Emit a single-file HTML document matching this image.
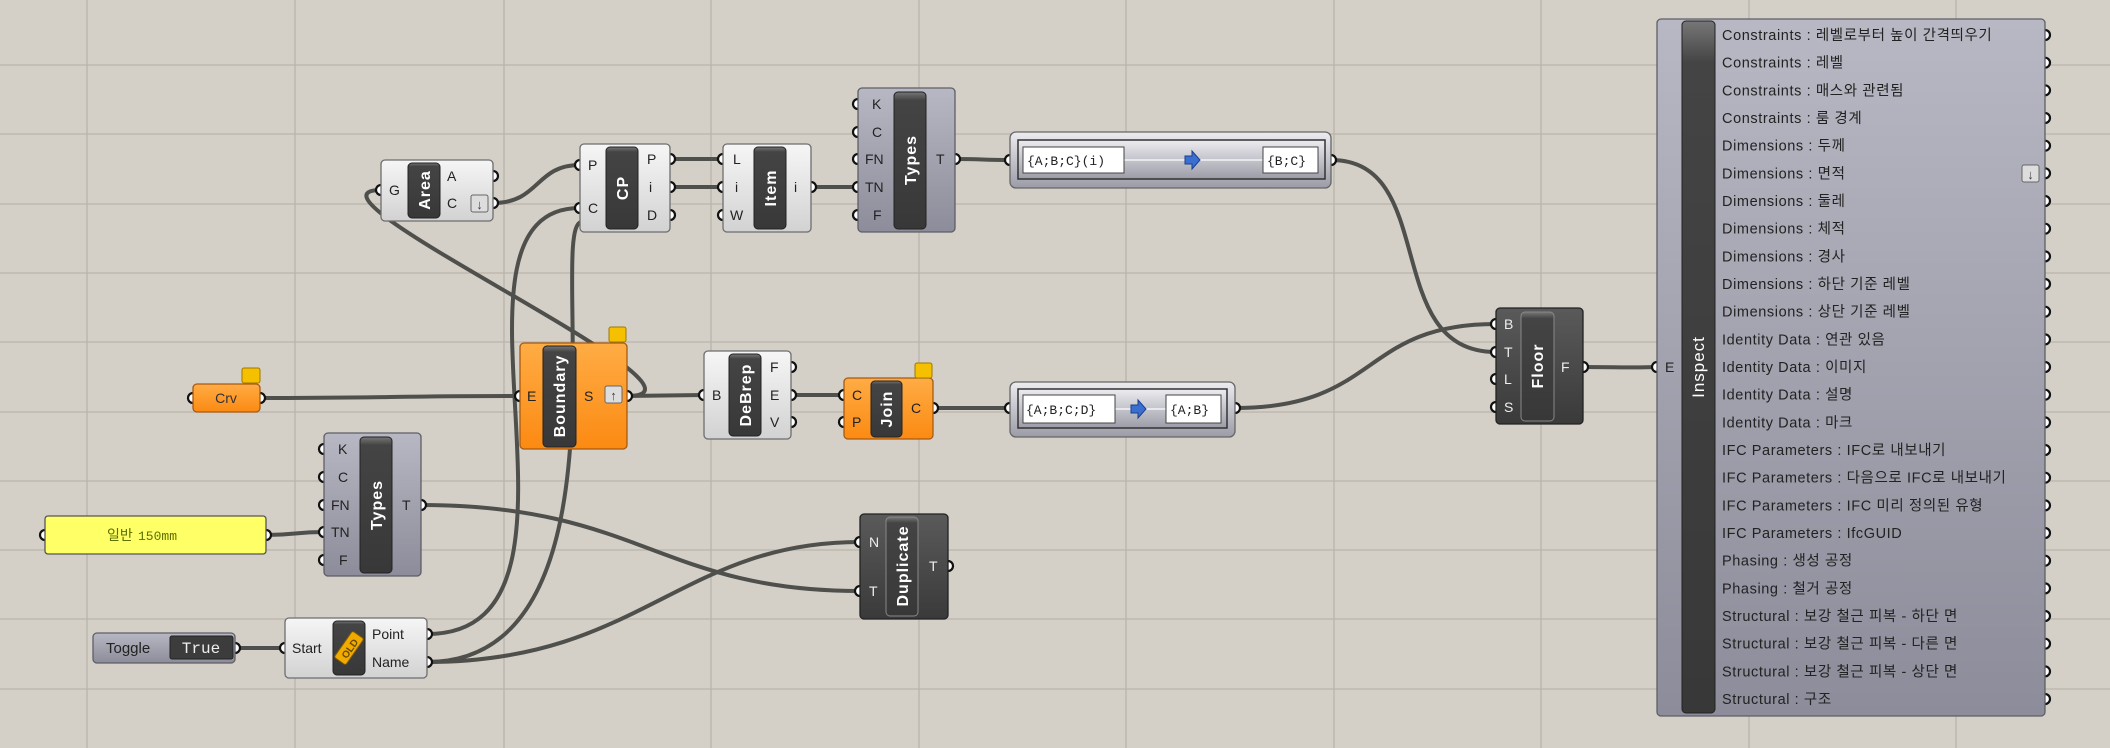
<!DOCTYPE html>
<html><head><meta charset="utf-8"><style>
html,body{margin:0;padding:0;background:#d4d0c8;}
svg{display:block}
text{font-family:"Liberation Sans","Noto Sans CJK KR",sans-serif;}
.pl{font-size:14px;fill:#222}
.pw{font-size:14px;fill:#eee}
.bt{font-size:16px;font-weight:bold;fill:#fff;letter-spacing:1px}
.mono{font-family:"Liberation Mono",monospace;font-size:13px;fill:#222}
.tru{font-family:"Liberation Mono",monospace;font-size:16px;fill:#eee}
.w{fill:none;stroke:#4f4f4c;stroke-width:4;stroke-linecap:round}
.s{fill:#fff;stroke:#111;stroke-width:2.2}
.ins{font-size:14.5px;fill:#222;letter-spacing:0.6px}
</style></head><body>
<svg width="2110" height="748" viewBox="0 0 2110 748" xmlns="http://www.w3.org/2000/svg">
<defs>
<linearGradient id="gL" x1="0" y1="0" x2="0" y2="1"><stop offset="0" stop-color="#f6f6f6"/><stop offset="1" stop-color="#d2d2d2"/></linearGradient>
<linearGradient id="gP" x1="0" y1="0" x2="0" y2="1"><stop offset="0" stop-color="#b8b8c4"/><stop offset="1" stop-color="#8c8c9a"/></linearGradient>
<linearGradient id="gO" x1="0" y1="0" x2="0" y2="1"><stop offset="0" stop-color="#ffac45"/><stop offset="1" stop-color="#fb8a12"/></linearGradient>
<linearGradient id="gD" x1="0" y1="0" x2="0" y2="1"><stop offset="0" stop-color="#5a5a5a"/><stop offset="1" stop-color="#3a3a3a"/></linearGradient>
<linearGradient id="gR" x1="0" y1="0" x2="0" y2="1"><stop offset="0" stop-color="#ececf0"/><stop offset="1" stop-color="#9c9ca8"/></linearGradient>
<linearGradient id="gB" x1="0" y1="0" x2="0" y2="1"><stop offset="0" stop-color="#777"/><stop offset="0.06" stop-color="#444"/><stop offset="1" stop-color="#383838"/></linearGradient>
</defs>

<!-- grid -->
<g stroke="#b9b5ad" stroke-width="1.3">
<line x1="87" y1="0" x2="87" y2="748"/><line x1="295" y1="0" x2="295" y2="748"/><line x1="504" y1="0" x2="504" y2="748"/><line x1="711" y1="0" x2="711" y2="748"/><line x1="919" y1="0" x2="919" y2="748"/><line x1="1126" y1="0" x2="1126" y2="748"/><line x1="1334" y1="0" x2="1334" y2="748"/><line x1="1541" y1="0" x2="1541" y2="748"/><line x1="1749" y1="0" x2="1749" y2="748"/><line x1="1956" y1="0" x2="1956" y2="748"/>
<line x1="0" y1="65" x2="2110" y2="65"/><line x1="0" y1="134" x2="2110" y2="134"/><line x1="0" y1="204" x2="2110" y2="204"/><line x1="0" y1="273" x2="2110" y2="273"/><line x1="0" y1="342" x2="2110" y2="342"/><line x1="0" y1="412" x2="2110" y2="412"/><line x1="0" y1="481" x2="2110" y2="481"/><line x1="0" y1="550" x2="2110" y2="550"/><line x1="0" y1="619" x2="2110" y2="619"/><line x1="0" y1="689" x2="2110" y2="689"/>
</g>

<!-- wires -->
<path class="w" d="M493,203 C540,203 535,165 580,165"/>
<path class="w" d="M627,396 C740,396 280,190 381,190"/>
<path class="w" d="M427,634 C620,634 420,208 580,208"/>
<path class="w" d="M427,662 C640,662 545,222 582,222"/>
<path class="w" d="M427,662 C640,662 680,542 860,542"/>
<path class="w" d="M421,505 C640,505 660,591 860,591"/>
<path class="w" d="M266,535 C295,535 295,532 324,532"/>
<path class="w" d="M235,648 L285,648"/>
<path class="w" d="M670,159 C700,159 695,159 723,159"/>
<path class="w" d="M670,187 L723,187"/>
<path class="w" d="M811,187 L858,187"/>
<path class="w" d="M955,159 C985,159 980,160 1010,160"/>
<path class="w" d="M1331,160 C1440,160 1380,352 1496,352"/>
<path class="w" d="M260,398 C380,398 400,396 520,396"/>
<path class="w" d="M627,396 L704,395"/>
<path class="w" d="M791,395 L844,395"/>
<path class="w" d="M933,408 L1010,408"/>
<path class="w" d="M1235,408 C1380,408 1360,324 1496,324"/>
<path class="w" d="M1583,367 C1620,367 1620,368 1657,367"/>

<!-- sockets -->
<g class="s">
<circle cx="381" cy="190" r="5"/><circle cx="493" cy="176" r="5"/><circle cx="493" cy="203" r="5"/>
<circle cx="580" cy="165" r="5"/><circle cx="580" cy="208" r="5"/><circle cx="670" cy="159" r="5"/><circle cx="670" cy="187" r="5"/><circle cx="670" cy="215" r="5"/>
<circle cx="723" cy="159" r="5"/><circle cx="723" cy="187" r="5"/><circle cx="723" cy="215" r="5"/><circle cx="811" cy="187" r="5"/>
<circle cx="858" cy="104" r="5"/><circle cx="858" cy="132" r="5"/><circle cx="858" cy="159" r="5"/><circle cx="858" cy="187" r="5"/><circle cx="858" cy="215" r="5"/><circle cx="955" cy="159" r="5"/>
<circle cx="193" cy="398" r="5"/><circle cx="260" cy="398" r="5"/>
<circle cx="520" cy="396" r="5"/><circle cx="627" cy="396" r="5"/>
<circle cx="704" cy="395" r="5"/><circle cx="791" cy="367" r="5"/><circle cx="791" cy="395" r="5"/><circle cx="791" cy="422" r="5"/>
<circle cx="844" cy="395" r="5"/><circle cx="844" cy="422" r="5"/><circle cx="933" cy="408" r="5"/>
<circle cx="324" cy="449" r="5"/><circle cx="324" cy="477" r="5"/><circle cx="324" cy="505" r="5"/><circle cx="324" cy="532" r="5"/><circle cx="324" cy="560" r="5"/><circle cx="421" cy="505" r="5"/>
<circle cx="45" cy="535" r="5"/><circle cx="266" cy="535" r="5"/>
<circle cx="235" cy="648" r="5"/><circle cx="285" cy="648" r="5"/><circle cx="427" cy="634" r="5"/><circle cx="427" cy="662" r="5"/>
<circle cx="860" cy="542" r="5"/><circle cx="860" cy="591" r="5"/><circle cx="948" cy="566" r="5"/>
<circle cx="1010" cy="160" r="5"/><circle cx="1331" cy="160" r="5"/><circle cx="1010" cy="408" r="5"/><circle cx="1235" cy="408" r="5"/>
<circle cx="1496" cy="324" r="5"/><circle cx="1496" cy="352" r="5"/><circle cx="1496" cy="379" r="5"/><circle cx="1496" cy="407" r="5"/><circle cx="1583" cy="367" r="5"/>
<circle cx="1657" cy="367" r="5"/>
</g>
<g class="s">
<circle cx="2045" cy="35" r="5"/><circle cx="2045" cy="62.7" r="5"/><circle cx="2045" cy="90.3" r="5"/><circle cx="2045" cy="118" r="5"/><circle cx="2045" cy="145.7" r="5"/><circle cx="2045" cy="173.3" r="5"/><circle cx="2045" cy="201" r="5"/><circle cx="2045" cy="228.7" r="5"/><circle cx="2045" cy="256.4" r="5"/><circle cx="2045" cy="284" r="5"/><circle cx="2045" cy="311.7" r="5"/><circle cx="2045" cy="339.4" r="5"/><circle cx="2045" cy="367" r="5"/><circle cx="2045" cy="394.7" r="5"/><circle cx="2045" cy="422.4" r="5"/><circle cx="2045" cy="450" r="5"/><circle cx="2045" cy="477.7" r="5"/><circle cx="2045" cy="505.4" r="5"/><circle cx="2045" cy="533" r="5"/><circle cx="2045" cy="560.7" r="5"/><circle cx="2045" cy="588.4" r="5"/><circle cx="2045" cy="616" r="5"/><circle cx="2045" cy="643.7" r="5"/><circle cx="2045" cy="671.4" r="5"/><circle cx="2045" cy="699" r="5"/>
</g>

<!-- Area -->
<rect x="381" y="160" width="112" height="61" rx="4" fill="url(#gL)" stroke="#6e6e6e" stroke-width="1.3"/>
<rect x="408" y="163" width="32" height="55" rx="4" fill="url(#gB)" stroke="#222"/>
<text class="bt" transform="translate(430,190) rotate(-90)" text-anchor="middle">Area</text>
<text class="pl" x="389" y="195">G</text><text class="pl" x="447" y="181">A</text><text class="pl" x="447" y="208">C</text>
<rect x="471" y="195" width="17" height="17" rx="2" fill="#ddd" stroke="#666"/><text x="479.5" y="209" font-size="13" text-anchor="middle" fill="#444">↓</text>

<!-- CP -->
<rect x="580" y="144" width="90" height="88" rx="4" fill="url(#gL)" stroke="#6e6e6e" stroke-width="1.3"/>
<rect x="606" y="147" width="32" height="82" rx="4" fill="url(#gB)" stroke="#222"/>
<text class="bt" transform="translate(628,188) rotate(-90)" text-anchor="middle">CP</text>
<text class="pl" x="588" y="170">P</text><text class="pl" x="588" y="213">C</text>
<text class="pl" x="647" y="164">P</text><text class="pl" x="649" y="192">i</text><text class="pl" x="647" y="220">D</text>

<!-- Item -->
<rect x="723" y="144" width="88" height="88" rx="4" fill="url(#gL)" stroke="#6e6e6e" stroke-width="1.3"/>
<rect x="754" y="147" width="32" height="82" rx="4" fill="url(#gB)" stroke="#222"/>
<text class="bt" transform="translate(776,188) rotate(-90)" text-anchor="middle">Item</text>
<text class="pl" x="733" y="164">L</text><text class="pl" x="735" y="192">i</text><text class="pl" x="730" y="220">W</text><text class="pl" x="794" y="192">i</text>

<!-- Types top -->
<rect x="858" y="88" width="97" height="144" rx="4" fill="url(#gP)" stroke="#5e5e66" stroke-width="1.3"/>
<rect x="894" y="92" width="32" height="137" rx="4" fill="url(#gB)" stroke="#222"/>
<text class="bt" transform="translate(916,160) rotate(-90)" text-anchor="middle">Types</text>
<text class="pl" x="872" y="109">K</text><text class="pl" x="872" y="137">C</text><text class="pl" x="865" y="164">FN</text><text class="pl" x="865" y="192">TN</text><text class="pl" x="873" y="220">F</text><text class="pl" x="936" y="164">T</text>

<!-- Crv -->
<rect x="193" y="384" width="67" height="28" rx="4" fill="url(#gO)" stroke="#a85a10" stroke-width="1.3"/>
<text x="226" y="403" font-size="14" text-anchor="middle" fill="#333">Crv</text>
<rect x="242" y="368" width="18" height="15" rx="2" fill="#f5c000" stroke="#a07800"/>

<!-- Boundary -->
<rect x="520" y="343" width="107" height="106" rx="4" fill="url(#gO)" stroke="#a85a10" stroke-width="1.3"/>
<rect x="543" y="346" width="33" height="101" rx="4" fill="url(#gB)" stroke="#222"/>
<text class="bt" transform="translate(565,396) rotate(-90)" text-anchor="middle">Boundary</text>
<text class="pl" x="527" y="401">E</text><text class="pl" x="584" y="401">S</text>
<rect x="605" y="386" width="17" height="17" rx="2" fill="#ddd" stroke="#666"/><text x="613.5" y="400" font-size="13" text-anchor="middle" fill="#444">↑</text>
<rect x="609" y="327" width="17" height="15" rx="2" fill="#f5c000" stroke="#a07800"/>

<!-- DeBrep -->
<rect x="704" y="351" width="87" height="88" rx="4" fill="url(#gL)" stroke="#6e6e6e" stroke-width="1.3"/>
<rect x="729" y="354" width="32" height="82" rx="4" fill="url(#gB)" stroke="#222"/>
<text class="bt" transform="translate(751,395) rotate(-90)" text-anchor="middle">DeBrep</text>
<text class="pl" x="712" y="400">B</text><text class="pl" x="770" y="372">F</text><text class="pl" x="770" y="400">E</text><text class="pl" x="770" y="427">V</text>

<!-- Join -->
<rect x="844" y="378" width="89" height="61" rx="4" fill="url(#gO)" stroke="#a85a10" stroke-width="1.3"/>
<rect x="871" y="381" width="31" height="56" rx="4" fill="url(#gB)" stroke="#222"/>
<text class="bt" transform="translate(892,409) rotate(-90)" text-anchor="middle">Join</text>
<text class="pl" x="852" y="400">C</text><text class="pl" x="852" y="427">P</text><text class="pl" x="911" y="413">C</text>
<rect x="915" y="363" width="17" height="15" rx="2" fill="#f5c000" stroke="#a07800"/>

<!-- Types lower -->
<rect x="324" y="433" width="97" height="143" rx="4" fill="url(#gP)" stroke="#5e5e66" stroke-width="1.3"/>
<rect x="360" y="437" width="32" height="136" rx="4" fill="url(#gB)" stroke="#222"/>
<text class="bt" transform="translate(382,505) rotate(-90)" text-anchor="middle">Types</text>
<text class="pl" x="338" y="454">K</text><text class="pl" x="338" y="482">C</text><text class="pl" x="331" y="510">FN</text><text class="pl" x="331" y="537">TN</text><text class="pl" x="339" y="565">F</text><text class="pl" x="402" y="510">T</text>

<!-- Panel -->
<rect x="45" y="516" width="221" height="38" rx="3" fill="#ffff66" stroke="#555" stroke-width="1.3"/>
<text x="107" y="540" font-size="14" style="fill:#5d7000">일반</text><text x="138" y="540" class="mono" style="fill:#5d7000">150mm</text>

<!-- Toggle -->
<rect x="93" y="633" width="142" height="30" rx="4" fill="url(#gP)" stroke="#5e5e66" stroke-width="1.3"/>
<text x="106" y="653" font-size="15" fill="#222">Toggle</text>
<rect x="170" y="636" width="63" height="23" rx="2" fill="#3c3c3c" stroke="#222"/>
<text x="201" y="653" class="tru" text-anchor="middle">True</text>

<!-- Start -->
<rect x="285" y="618" width="142" height="60" rx="4" fill="url(#gL)" stroke="#6e6e6e" stroke-width="1.3"/>
<rect x="333" y="621" width="32" height="54" rx="4" fill="url(#gB)" stroke="#222"/>
<g transform="translate(349,648) rotate(-55)"><rect x="-16" y="-7" width="32" height="14" rx="2" fill="#f0aa00" stroke="#805a00"/><text x="0" y="4.5" font-size="10" font-weight="bold" fill="#6a4a00" text-anchor="middle">OLD</text></g>
<text class="pl" x="292" y="653">Start</text><text class="pl" x="372" y="639">Point</text><text class="pl" x="372" y="667">Name</text>

<!-- Duplicate -->
<rect x="860" y="514" width="88" height="105" rx="4" fill="url(#gD)" stroke="#222" stroke-width="1.3"/>
<rect x="886" y="517" width="32" height="99" rx="4" fill="url(#gB)" stroke="#888"/>
<text class="bt" transform="translate(908,566) rotate(-90)" text-anchor="middle">Duplicate</text>
<text class="pw" x="869" y="547">N</text><text class="pw" x="869" y="596">T</text><text class="pw" x="929" y="571">T</text>

<!-- Relative item 1 -->
<rect x="1010" y="132" width="321" height="56" rx="6" fill="url(#gR)" stroke="#666" stroke-width="1.3"/>
<rect x="1018" y="140" width="307" height="39" fill="url(#gR)" stroke="#333" stroke-width="1.5"/>
<line x1="1124" y1="160" x2="1263" y2="160" stroke="#f4f4f4" stroke-width="1.5"/>
<rect x="1023" y="147" width="101" height="26" fill="#fff" stroke="#444"/>
<text class="mono" x="1027" y="165">{A;B;C}(i)</text>
<rect x="1263" y="147" width="55" height="26" fill="#fff" stroke="#444"/>
<text class="mono" x="1267" y="165">{B;C}</text>
<path d="M1185,156 L1192,156 L1192,151 L1200,160 L1192,169 L1192,164 L1185,164 Z" fill="#3a6fd0" stroke="#1a3f90"/>

<!-- Relative item 2 -->
<rect x="1010" y="382" width="225" height="55" rx="6" fill="url(#gR)" stroke="#666" stroke-width="1.3"/>
<rect x="1018" y="389" width="209" height="39" fill="url(#gR)" stroke="#333" stroke-width="1.5"/>
<line x1="1115" y1="409" x2="1166" y2="409" stroke="#f4f4f4" stroke-width="1.5"/>
<rect x="1023" y="395" width="92" height="28" fill="#fff" stroke="#444"/>
<text class="mono" x="1026" y="414">{A;B;C;D}</text>
<rect x="1166" y="395" width="55" height="28" fill="#fff" stroke="#444"/>
<text class="mono" x="1170" y="414">{A;B}</text>
<path d="M1131,405 L1138,405 L1138,400 L1146,409 L1138,418 L1138,413 L1131,413 Z" fill="#3a6fd0" stroke="#1a3f90"/>

<!-- Floor -->
<rect x="1496" y="308" width="87" height="116" rx="4" fill="url(#gD)" stroke="#222" stroke-width="1.3"/>
<rect x="1521" y="312" width="33" height="109" rx="4" fill="url(#gB)" stroke="#888"/>
<text class="bt" transform="translate(1543,366) rotate(-90)" text-anchor="middle">Floor</text>
<text class="pw" x="1504" y="329">B</text><text class="pw" x="1504" y="357">T</text><text class="pw" x="1504" y="384">L</text><text class="pw" x="1504" y="412">S</text><text class="pw" x="1561" y="372">F</text>

<!-- Inspect -->
<rect x="1657" y="19" width="388" height="697" rx="4" fill="url(#gP)" stroke="#5e5e66" stroke-width="1.3"/>
<rect x="1682" y="21" width="33" height="692" rx="4" fill="url(#gB)" stroke="#222"/>
<text class="bt" transform="translate(1704,367) rotate(-90)" text-anchor="middle" style="font-weight:normal;font-size:17px">Inspect</text>
<text class="pl" x="1665" y="372">E</text>
<rect x="2022" y="165" width="17" height="17" rx="2" fill="#ddd" stroke="#666"/><text x="2030.5" y="179" font-size="13" text-anchor="middle" fill="#444">↓</text>
<g class="ins">
<text x="1722" y="40">Constraints : 레벨로부터 높이 간격띄우기</text>
<text x="1722" y="67.7">Constraints : 레벨</text>
<text x="1722" y="95.3">Constraints : 매스와 관련됨</text>
<text x="1722" y="123">Constraints : 룸 경계</text>
<text x="1722" y="150.7">Dimensions : 두께</text>
<text x="1722" y="178.3">Dimensions : 면적</text>
<text x="1722" y="206">Dimensions : 둘레</text>
<text x="1722" y="233.7">Dimensions : 체적</text>
<text x="1722" y="261.4">Dimensions : 경사</text>
<text x="1722" y="289">Dimensions : 하단 기준 레벨</text>
<text x="1722" y="316.7">Dimensions : 상단 기준 레벨</text>
<text x="1722" y="344.4">Identity Data : 연관 있음</text>
<text x="1722" y="372">Identity Data : 이미지</text>
<text x="1722" y="399.7">Identity Data : 설명</text>
<text x="1722" y="427.4">Identity Data : 마크</text>
<text x="1722" y="455">IFC Parameters : IFC로 내보내기</text>
<text x="1722" y="482.7">IFC Parameters : 다음으로 IFC로 내보내기</text>
<text x="1722" y="510.4">IFC Parameters : IFC 미리 정의된 유형</text>
<text x="1722" y="538">IFC Parameters : IfcGUID</text>
<text x="1722" y="565.7">Phasing : 생성 공정</text>
<text x="1722" y="593.4">Phasing : 철거 공정</text>
<text x="1722" y="621">Structural : 보강 철근 피복 - 하단 면</text>
<text x="1722" y="648.7">Structural : 보강 철근 피복 - 다른 면</text>
<text x="1722" y="676.4">Structural : 보강 철근 피복 - 상단 면</text>
<text x="1722" y="704">Structural : 구조</text>
</g>
</svg>
</body></html>
